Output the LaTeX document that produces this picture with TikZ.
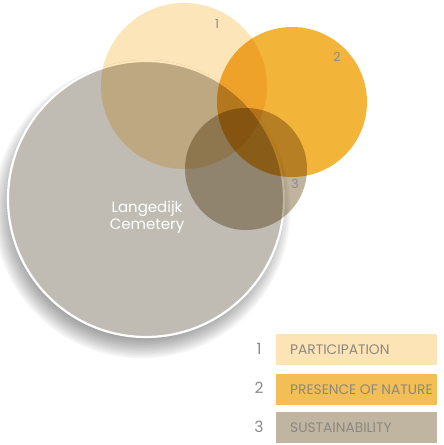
\documentclass[tikz,border=0pt]{standalone}
\usepackage{fontspec}
\setmainfont{Poppins}
\definecolor{cgray}{RGB}{192,188,180}
\definecolor{cone}{RGB}{252,229,184}
\definecolor{ctwo}{RGB}{242,181,58}
\definecolor{cthree}{RGB}{192,180,158}
\definecolor{lone}{RGB}{252,228,182}
\definecolor{ltwo}{RGB}{242,190,85}
\definecolor{lthree}{RGB}{191,181,160}
\definecolor{numgray}{RGB}{140,138,134}
\definecolor{txtgray}{RGB}{140,136,128}
\begin{document}
\begin{tikzpicture}[x=1pt,y=-1pt,
  legbox/.style={minimum width=161pt,minimum height=31pt,inner sep=0pt,anchor=north west},
  legtext/.style={font=\fontsize{13.8}{16}\selectfont,text=txtgray,anchor=west,inner sep=0pt},
  legnum/.style={font=\fontsize{15.5}{17}\selectfont,text=numgray},
  cnum/.style={font=\fontsize{12.5}{14}\selectfont,text=numgray}]
\useasboundingbox (0,0) rectangle (444,445);
% shadow
\foreach \i in {1,...,12}{
  \fill[black,opacity=0.035] (142,210) circle ({128+\i*1.7});
}
% big circle
\fill[cgray] (146,199) circle (139);
\draw[white,line width=2.2pt] (146,199) circle (138);
\node[font=\fontsize{15}{18}\selectfont,text=white,align=center] (lc) at (147,217) {Langedijk\\[-1pt]Cemetery};
% overlapping circles
\begin{scope}[blend mode=multiply]
\fill[cone] (184,86) circle (83);
\fill[ctwo] (292,102) circle (75);
\fill[cthree] (246,169) circle (61);
\end{scope}
\node[cnum] (n1) at (217,24) {1};
\node[cnum] (n2) at (337,57) {2};
\node[cnum] (n3) at (295,184) {3};
% legend
\node[legbox,fill=lone] (b1) at (276,334) {};
\node[legbox,fill=ltwo] (b2) at (276,374) {};
\node[legbox,fill=lthree] (b3) at (276,412) {};
\node[legtext] (t1) at ([xshift=14pt]b1.west) {PARTICIPATION};
\node[legtext] (t2) at ([xshift=14pt]b2.west) {PRESENCE OF NATURE};
\node[legtext] (t3) at ([xshift=14pt]b3.west) {SUSTAINABILITY};
\node[legnum] (m1) at (259,349) {1};
\node[legnum] (m2) at (259,388) {2};
\node[legnum] (m3) at (259,427) {3};
\end{tikzpicture}
\end{document}
